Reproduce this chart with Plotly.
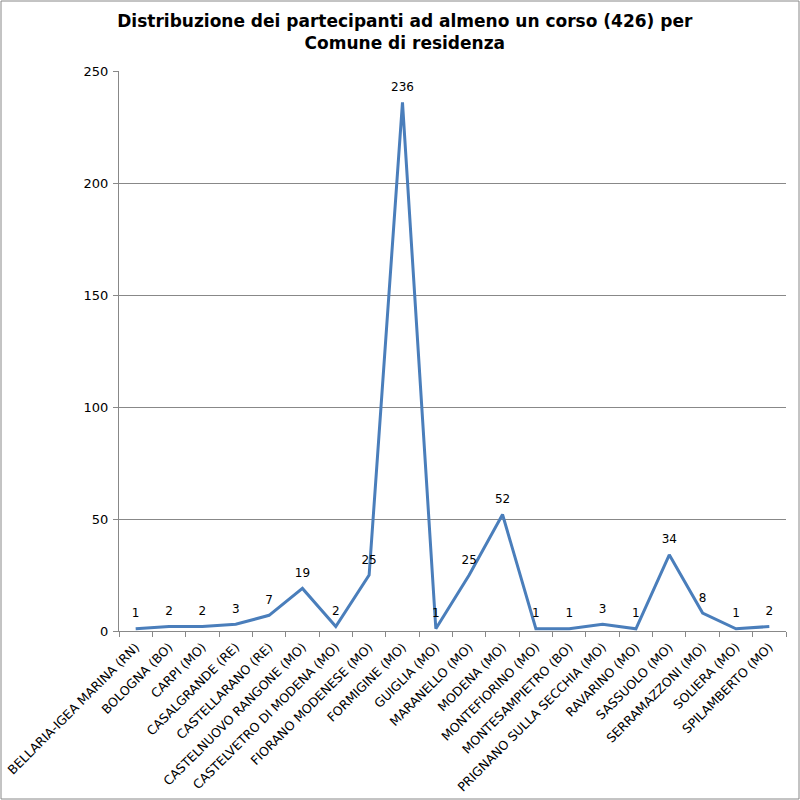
import plotly.graph_objects as go

comuni = [
    "BELLARIA-IGEA MARINA (RN)", "BOLOGNA (BO)", "CARPI (MO)", "CASALGRANDE (RE)",
    "CASTELLARANO (RE)", "CASTELNUOVO RANGONE (MO)", "CASTELVETRO DI MODENA (MO)",
    "FIORANO MODENESE (MO)", "FORMIGINE (MO)", "GUIGLIA (MO)", "MARANELLO (MO)",
    "MODENA (MO)", "MONTEFIORINO (MO)", "MONTESAMPIETRO (BO)",
    "PRIGNANO SULLA SECCHIA (MO)", "RAVARINO (MO)", "SASSUOLO (MO)",
    "SERRAMAZZONI (MO)", "SOLIERA (MO)", "SPILAMBERTO (MO)",
]
partecipanti = [1, 2, 2, 3, 7, 19, 2, 25, 236, 1, 25, 52, 1, 1, 3, 1, 34, 8, 1, 2]

titolo = "<b>Distribuzione dei partecipanti ad almeno un corso (426) per<br>Comune di residenza</b>"

fig = go.Figure()
fig.add_trace(go.Scatter(
    x=comuni, y=partecipanti, mode="lines+markers+text",
    text=[str(v) for v in partecipanti], textposition="top center",
    textfont=dict(size=12, color="black"),
    line=dict(color="#4A7EBB", width=3),
    marker=dict(size=12, opacity=0),
    cliponaxis=False, showlegend=False, hoverinfo="x+y",
))

# cornice esterna del grafico
fig.add_shape(type="rect", xref="paper", yref="paper",
              x0=-0.1769, x1=1.0195, y0=-0.3, y1=1.125,
              line=dict(color="#888888", width=1))

fig.update_layout(
    width=800, height=800,
    margin=dict(l=119, r=14, t=71, b=169),
    plot_bgcolor="white", paper_bgcolor="white",
    font=dict(family="DejaVu Sans", size=12, color="black"),
    title=dict(text=titolo, x=0.506, xanchor="center", y=0.966, yanchor="top",
               font=dict(size=17, color="black")),
    xaxis=dict(
        type="category", tickangle=-45, showgrid=False, automargin=False,
        showline=True, linecolor="#888888", linewidth=1,
        ticks="outside", tickson="boundaries", ticklen=5, tickcolor="#888888",
        tickfont=dict(size=12.5), ticklabelstandoff=3,
        range=[-0.5, len(comuni) - 0.5],
    ),
    yaxis=dict(
        range=[0, 250], dtick=50, showgrid=True, gridcolor="#888888", gridwidth=1,
        showline=True, linecolor="#888888", linewidth=1, automargin=False,
        ticks="outside", ticklen=5, tickcolor="#888888",
        tickfont=dict(size=13), ticklabelstandoff=2, zeroline=False,
    ),
)

# niente margine del body, così il grafico parte dall'angolo della pagina
fig.write_html("out.html", config={"displayModeBar": False},
               post_script="document.body.style.margin='0';")
